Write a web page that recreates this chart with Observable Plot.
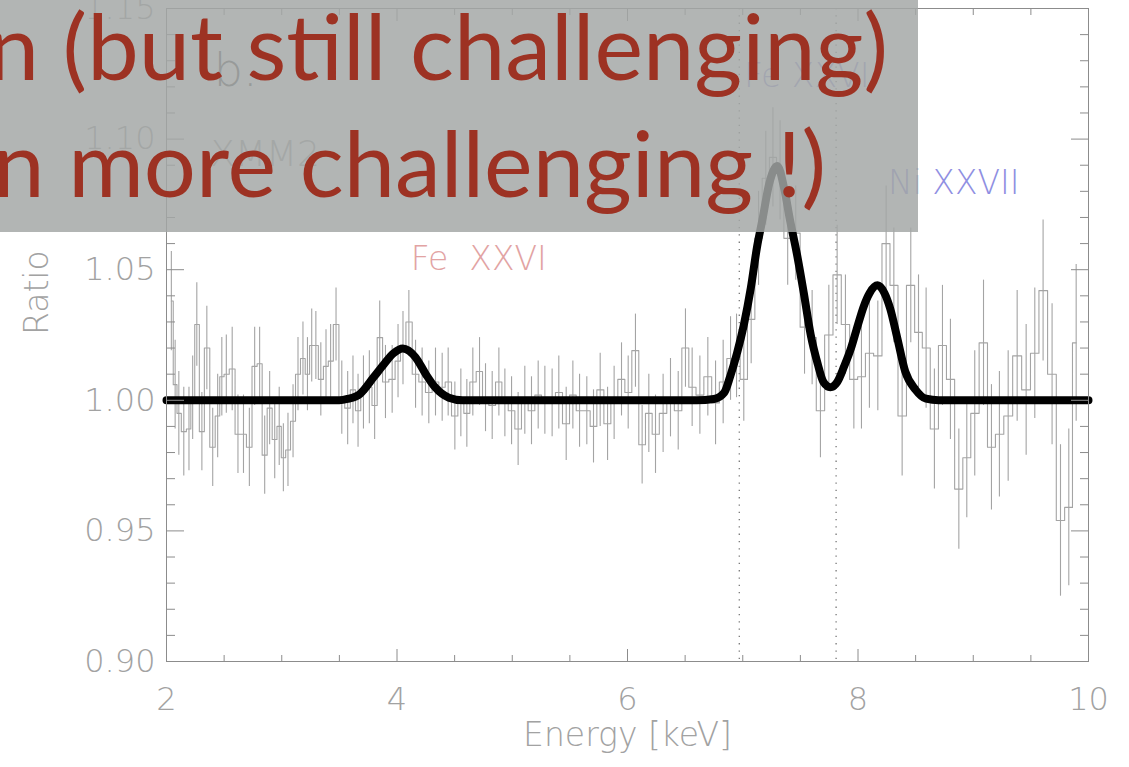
<!DOCTYPE html>
<html><head><meta charset="utf-8">
<script src="https://cdn.jsdelivr.net/npm/d3@7"></script>
<script src="https://cdn.jsdelivr.net/npm/@observablehq/plot@0.6"></script>
<style>
html,body{margin:0;padding:0;background:#fff;}
#wrap{position:relative;width:1129px;height:767px;overflow:hidden;}
#wrap svg.banner{position:absolute;left:0;top:0;}
</style></head><body><div id="wrap"></div>
<script>
// Spectrum ratio data (bin centre energy [keV], ratio, 1-sigma error)
const energy = [2.042,2.075,2.107,2.150,2.195,2.227,2.263,2.307,2.350,2.401,2.444,2.480,2.519,2.570,2.620,2.668,2.719,2.765,2.808,2.852,2.895,2.939,2.978,3.014,3.054,3.098,3.141,3.184,3.223,3.260,3.296,3.339,3.384,3.424,3.471,3.521,3.572,3.618,3.662,3.709,3.760,3.806,3.850,3.900,3.958,4.009,4.052,
 4.103,4.161,4.218,4.276,4.334,4.392,4.444,4.502,4.554,4.606,4.658,4.716,4.768,4.826,4.884,4.936,4.994,5.051,5.109,5.167,5.225,5.283,5.346,5.404,5.468,5.526,5.584,5.647,5.705,5.763,5.827,5.884,5.948,6.006,6.069,
 6.127,6.185,6.243,6.309,6.373,6.440,6.503,6.561,6.628,6.697,6.764,6.830,6.894,6.946,7.009,7.073,7.137,7.200,7.262,7.324,7.390,7.460,7.536,7.602,7.674,7.747,7.819,7.891,7.964,
 8.030,8.099,8.172,8.244,8.311,8.383,8.458,8.525,8.591,8.663,8.733,8.802,8.875,8.944,9.013,9.089,9.158,9.227,9.303,9.381,9.459,9.534,9.606,9.684,9.757,9.829,9.893];
const ratio = [1.038,1.006,0.995,0.988,0.989,1.001,1.029,0.988,1.020,0.982,0.994,1.009,1.010,1.012,0.987,0.987,0.982,1.013,1.014,0.979,0.997,0.985,0.990,0.978,0.981,0.992,1.010,1.016,1.010,1.021,1.021,1.008,1.013,1.015,1.029,1.001,0.997,1.004,0.996,1.003,1.005,0.998,1.024,1.007,1.008,1.015,1.020,
 1.030,1.010,1.007,1.003,1.007,1.005,1.007,0.994,0.999,0.995,1.007,1.011,1.001,0.998,1.007,0.999,0.996,0.989,1.000,0.996,1.002,1.000,0.999,1.003,0.991,1.002,0.996,0.996,0.990,1.004,0.991,0.999,1.008,1.003,1.019,
 0.983,0.995,0.987,0.995,1.001,0.996,1.020,1.005,1.002,1.009,0.999,1.007,1.016,1.017,1.008,1.031,1.062,1.085,1.093,1.088,1.062,1.064,1.028,1.024,0.996,1.025,1.048,1.029,1.008,
 1.009,1.018,1.017,1.060,1.044,0.994,1.044,1.026,1.020,0.989,1.021,1.008,0.966,0.978,0.995,1.022,0.982,0.987,0.994,1.017,1.004,1.018,1.042,1.010,0.954,0.959,1.022];
const err = [0.019,0.017,0.016,0.017,0.016,0.016,0.016,0.015,0.016,0.015,0.016,0.015,0.015,0.016,0.015,0.015,0.015,0.015,0.014,0.015,0.014,0.015,0.015,0.013,0.014,0.014,0.014,0.014,0.014,0.014,0.013,0.014,0.014,0.014,0.014,0.014,0.014,0.013,0.014,0.014,0.014,0.013,0.014,0.014,0.013,0.014,0.014,
 0.012,0.013,0.013,0.012,0.013,0.013,0.013,0.013,0.013,0.013,0.013,0.013,0.013,0.013,0.013,0.013,0.013,0.014,0.013,0.013,0.013,0.013,0.013,0.014,0.014,0.013,0.014,0.013,0.014,0.014,0.014,0.014,0.014,0.014,0.014,
 0.015,0.015,0.015,0.015,0.015,0.015,0.015,0.015,0.015,0.015,0.016,0.016,0.016,0.016,0.016,0.017,0.018,0.018,0.019,0.019,0.018,0.018,0.018,0.018,0.018,0.019,0.019,0.019,0.019,
 0.020,0.021,0.021,0.022,0.022,0.023,0.022,0.022,0.023,0.023,0.023,0.023,0.023,0.023,0.024,0.024,0.024,0.024,0.025,0.025,0.025,0.025,0.027,0.027,0.029,0.030,0.030];

// Best-fit model curve
const modelE = [2.0,3.5,3.57,3.68,3.80,3.89,3.97,4.05,4.16,4.25,4.33,4.45,4.57,6.6,6.75,6.84,6.89,6.95,7.01,7.07,7.125,7.17,7.23,7.30,7.36,7.41,7.47,7.53,7.59,7.65,7.70,7.76,7.82,7.88,7.94,8.0,8.05,8.10,8.17,8.23,8.28,8.34,8.41,8.50,8.59,8.70,10.0];
const modelR = [1.0,1.0,1.0005,1.0025,1.009,1.014,1.018,1.0198,1.0165,1.010,1.005,1.001,1.0,1.0,1.0005,1.003,1.009,1.018,1.029,1.043,1.059,1.069,1.083,1.0897,1.081,1.069,1.056,1.041,1.025,1.014,1.007,1.005,1.007,1.013,1.020,1.029,1.036,1.041,1.044,1.041,1.035,1.024,1.011,1.004,1.0006,1.0,1.0];

// rest-frame line energies (dotted lines)
const lineEnergies = [6.97, 7.81];

// axis ticks
const xMajor = [2, 4, 6, 8, 10];
const xMinor = [2.5,3,3.5,4.5,5,5.5,6.5,7,7.5,8.5,9,9.5];
const yMajor = [0.90, 0.95, 1.00, 1.05, 1.10, 1.15];
const yMinor = [0.91,0.92,0.93,0.94,0.96,0.97,0.98,0.99,1.01,1.02,1.03,1.04,1.06,1.07,1.08,1.09,1.11,1.12,1.13,1.14];

// annotations
const annText = ["b.", "XMM2", "Fe  XXVI", "Fe XXVI", "Ni XXVII"];
const annX = [2.41, 2.38, 4.12, 7.01, 8.26];
const annY = [1.126, 1.094, 1.054, 1.124, 1.083];
const annColor = ["#5a5a5a", "#a8a8a8", "#e2a3a3", "#9c9ce0", "#8f8fe2"];
const annSize = [46, 36, 33, 33, 33];

const bannerLines = ["n (but still challenging)", "n more challenging !)"];

const data = energy.map((e, i) => ({e, r: ratio[i], lo: ratio[i] - err[i], hi: ratio[i] + err[i]}));
const model = modelE.map((e, i) => ({e, r: modelR[i]}));
const ann = annText.map((t, i) => ({t, x: annX[i], y: annY[i], c: annColor[i], s: annSize[i]}));

const axisCol = "#8c8c8c";
const textCol = "#a2a2a2";
const font = "'DejaVu Sans', sans-serif";

const plot = Plot.plot({
  width: 1129, height: 767,
  marginLeft: 166, marginRight: 41, marginTop: 8, marginBottom: 106,
  style: {fontFamily: font, background: "white", color: textCol},
  x: {domain: [2, 10]},
  y: {domain: [0.9, 1.15]},
  marks: [
    Plot.ruleX(lineEnergies, {stroke: "#777", strokeWidth: 1.3, strokeDasharray: "1.3,6"}),
    Plot.ruleX(data, {x: "e", y1: "lo", y2: "hi", stroke: "#a4a4a4", strokeWidth: 1.1}),
    Plot.line(data, {x: "e", y: "r", curve: "step", stroke: "#a4a4a4", strokeWidth: 1.1}),
    Plot.line(model, {x: "e", y: "r", curve: "monotone-x", stroke: "#000", strokeWidth: 8}),
    Plot.text(ann, {x: "x", y: "y", text: "t", fill: "c", fontSize: "s", textAnchor: "start", fontWeight: 200}),
    Plot.frame({stroke: axisCol}),
    // inward ticks, all four sides
    Plot.axisX({anchor: "bottom", ticks: xMajor, tickSize: -12, tickFormat: () => "", label: null, stroke: axisCol}),
    Plot.axisX({anchor: "bottom", ticks: xMinor, tickSize: -6, tickFormat: () => "", label: null, stroke: axisCol}),
    Plot.axisX({anchor: "top", ticks: xMajor, tickSize: -12, tickFormat: () => "", label: null, stroke: axisCol}),
    Plot.axisX({anchor: "top", ticks: xMinor, tickSize: -6, tickFormat: () => "", label: null, stroke: axisCol}),
    Plot.axisY({anchor: "left", ticks: yMajor, tickSize: -18, tickFormat: () => "", label: null, stroke: axisCol}),
    Plot.axisY({anchor: "left", ticks: yMinor, tickSize: -9, tickFormat: () => "", label: null, stroke: axisCol}),
    Plot.axisY({anchor: "right", ticks: yMajor, tickSize: -18, tickFormat: () => "", label: null, stroke: axisCol}),
    Plot.axisY({anchor: "right", ticks: yMinor, tickSize: -9, tickFormat: () => "", label: null, stroke: axisCol}),
    // tick labels
    Plot.axisX({anchor: "bottom", ticks: xMajor, tickSize: 0, tickPadding: 26, tickFormat: d => String(d), label: null, fontSize: 32, fontWeight: 200, fill: textCol}),
    Plot.axisY({anchor: "left", ticks: yMajor, tickSize: 0, tickPadding: 11, tickFormat: d3.format(".2f"), label: null, fontSize: 32, fontWeight: 200, fill: textCol}),
    // axis titles
    Plot.text(["Energy [keV]"], {frameAnchor: "bottom", dy: 84, fontSize: 33, fontWeight: 200, fill: textCol}),
    Plot.text(["Ratio"], {frameAnchor: "left", dx: -129, rotate: -90, fontSize: 33, fontWeight: 200, fill: textCol})
  ]
});
document.getElementById("wrap").appendChild(plot);

// overlay banner
const svg = d3.select("#wrap").append("svg").attr("class", "banner")
  .attr("width", 1129).attr("height", 767);
svg.append("rect").attr("x", 0).attr("y", 0).attr("width", 918).attr("height", 232)
  .attr("fill", "rgb(163,167,166)").attr("fill-opacity", 0.84);
svg.selectAll("text.b").data(bannerLines).join("text")
  .attr("x", (d, i) => i === 0 ? 888 : 826)
  .attr("y", (d, i) => i === 0 ? 80 : 197)
  .attr("text-anchor", "end")
  .attr("font-family", "Lato, 'Open Sans', sans-serif")
  .attr("font-size", 92)
  .attr("fill", "#9d3223")
  .text(d => d);
</script></body></html>
